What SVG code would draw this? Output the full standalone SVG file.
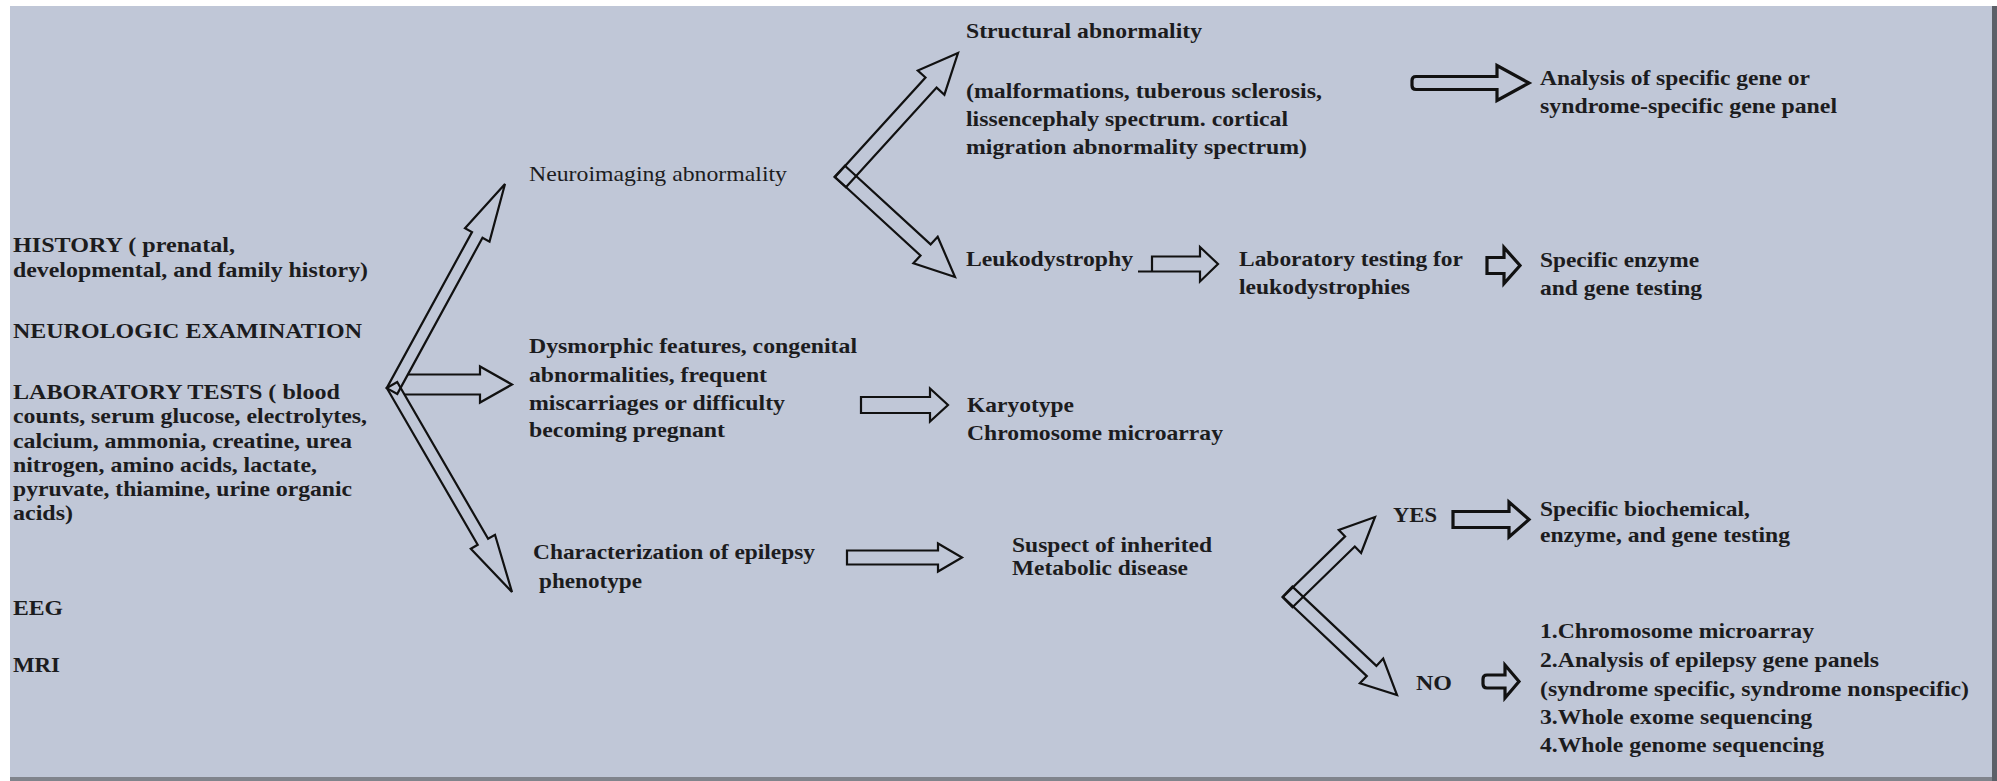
<svg xmlns="http://www.w3.org/2000/svg" width="1997" height="781" viewBox="0 0 1997 781">
<style>
.t{font-family:"Liberation Serif","Times New Roman",serif;font-size:22px;font-weight:bold;fill:#1c1c1e}
.r{font-weight:normal}
.a{fill:none;stroke:#111;stroke-width:2.2;stroke-linejoin:miter}
.b{stroke-width:3.2}
</style>
<rect x="0" y="0" width="1997" height="781" fill="#ffffff"/>
<rect x="10" y="6" width="1982" height="771" fill="#c0c7d7"/>
<rect x="10" y="777" width="1987" height="4" fill="#80848c"/>
<rect x="1992" y="6" width="5" height="775" fill="#5c6068"/>

<g id="connectors">
  <!-- left fork -->
  <polygon class="a" points="397.3,393.9 482.5,237.8 489.5,241.6 505,184 465,228.2 472,232.1 386.7,388.1"/>
  <polygon class="a" points="386.8,388 477.7,544.8 470.8,548.8 512,592 495,534.8 488.1,538.8 397.2,382"/>
  <path class="a" d="M407.8,374.5 L480,374.5 L480,366.5 L512,384.5 L480,402.5 L480,394.5 L404.4,394.5"/>
  <!-- neuroimaging fork -->
  <polygon class="a" points="845.9,187.3 936.6,87.6 944.4,94.7 958,53 917.8,70.5 925.5,77.5 834.8,177.2"/>
  <polygon class="a" points="834.7,176.8 920.5,255.5 913.4,263.2 955,277 937.7,236.7 930.6,244.4 844.9,165.7"/>
  <!-- structural -> gene panel -->
  <path class="a b" d="M1416,76.5 L1497,76.5 L1497,65.5 L1529,83 L1497,100.5 L1497,89.5 L1416,89.5 Q1412,89.5 1412,85.5 L1412,80.5 Q1412,76.5 1416,76.5 Z"/>
  <!-- leukodystrophy -> lab testing -->
  <path class="a" d="M1152,256.5 L1200,256.5 L1200,247 L1218,264 L1200,281.5 L1200,271.5 L1152,271.5 Z M1138,271.5 L1152,271.5"/>
  <!-- lab testing -> enzyme -->
  <path class="a b" d="M1487,257.5 L1504,257.5 L1504,247.5 L1520,265.5 L1504,283.5 L1504,273.5 L1487,273.5 Z"/>
  <!-- dysmorphic -> karyotype -->
  <path class="a" d="M861,397 L930,397 L930,388.5 L948,405 L930,421.5 L930,413 L861,413 Z"/>
  <!-- epilepsy -> suspect -->
  <path class="a" d="M847,550.5 L938,550.5 L938,543.5 L962,557.5 L938,571.5 L938,564.5 L847,564.5 Z"/>
  <!-- yes/no fork -->
  <polygon class="a" points="1292.5,607.3 1354.8,546.5 1361.1,552.9 1375,517 1338.8,530 1345.1,536.4 1282.7,597.3"/>
  <polygon class="a" points="1282.8,596.8 1366.8,676.1 1359.9,683.3 1397,695 1383.2,658.6 1376.4,665.9 1292.4,586.6"/>
  <!-- yes -> biochemical -->
  <path class="a b" d="M1453,511.5 L1509,511.5 L1509,502 L1529,519.5 L1509,537 L1509,527.5 L1453,527.5 Z"/>
  <!-- no -> list -->
  <path class="a b" d="M1487,675 L1505,675 L1505,665 L1519,681.5 L1505,698 L1505,688 L1487,688 Q1483,688 1483,684 L1483,679 Q1483,675 1487,675 Z"/>
</g>

<g id="inputs">
  <text class="t" x="13" y="252" textLength="222" lengthAdjust="spacingAndGlyphs">HISTORY ( prenatal,</text>
  <text class="t" x="13" y="277" textLength="355" lengthAdjust="spacingAndGlyphs">developmental, and family history)</text>
  <text class="t" x="13" y="338" textLength="349" lengthAdjust="spacingAndGlyphs">NEUROLOGIC EXAMINATION</text>
  <text class="t" x="13" y="399" textLength="327" lengthAdjust="spacingAndGlyphs">LABORATORY TESTS ( blood</text>
  <text class="t" x="13" y="423" textLength="354" lengthAdjust="spacingAndGlyphs">counts, serum glucose, electrolytes,</text>
  <text class="t" x="13" y="448" textLength="339" lengthAdjust="spacingAndGlyphs">calcium, ammonia, creatine, urea</text>
  <text class="t" x="13" y="472" textLength="304" lengthAdjust="spacingAndGlyphs">nitrogen, amino acids, lactate,</text>
  <text class="t" x="13" y="496" textLength="339" lengthAdjust="spacingAndGlyphs">pyruvate, thiamine, urine organic</text>
  <text class="t" x="13" y="520" textLength="60" lengthAdjust="spacingAndGlyphs">acids)</text>
  <text class="t" x="13" y="615" textLength="50" lengthAdjust="spacingAndGlyphs">EEG</text>
  <text class="t" x="13" y="672" textLength="47" lengthAdjust="spacingAndGlyphs">MRI</text>
</g>

<g id="neuroimaging">
  <text class="t r" x="529" y="181" textLength="258" lengthAdjust="spacingAndGlyphs">Neuroimaging abnormality</text>
</g>

<g id="dysmorphic">
  <text class="t" x="529" y="353" textLength="328" lengthAdjust="spacingAndGlyphs">Dysmorphic features, congenital</text>
  <text class="t" x="529" y="382" textLength="238" lengthAdjust="spacingAndGlyphs">abnormalities, frequent</text>
  <text class="t" x="529" y="410" textLength="256" lengthAdjust="spacingAndGlyphs">miscarriages or difficulty</text>
  <text class="t" x="529" y="437" textLength="196" lengthAdjust="spacingAndGlyphs">becoming pregnant</text>
</g>

<g id="epilepsy">
  <text class="t" x="533" y="559" textLength="282" lengthAdjust="spacingAndGlyphs">Characterization of epilepsy</text>
  <text class="t" x="539" y="588" textLength="103" lengthAdjust="spacingAndGlyphs">phenotype</text>
</g>

<g id="structural">
  <text class="t" x="966" y="38" textLength="236" lengthAdjust="spacingAndGlyphs">Structural abnormality</text>
  <text class="t" x="966" y="98" textLength="356" lengthAdjust="spacingAndGlyphs">(malformations, tuberous sclerosis,</text>
  <text class="t" x="966" y="126" textLength="322" lengthAdjust="spacingAndGlyphs">lissencephaly spectrum. cortical</text>
  <text class="t" x="966" y="154" textLength="341" lengthAdjust="spacingAndGlyphs">migration abnormality spectrum)</text>
</g>

<g id="leukodystrophy">
  <text class="t" x="966" y="266" textLength="167" lengthAdjust="spacingAndGlyphs">Leukodystrophy</text>
</g>

<g id="lab-testing">
  <text class="t" x="1239" y="266" textLength="224" lengthAdjust="spacingAndGlyphs">Laboratory testing for</text>
  <text class="t" x="1239" y="294" textLength="171" lengthAdjust="spacingAndGlyphs">leukodystrophies</text>
</g>

<g id="gene-panel">
  <text class="t" x="1540" y="85" textLength="270" lengthAdjust="spacingAndGlyphs">Analysis of specific gene or</text>
  <text class="t" x="1540" y="113" textLength="297" lengthAdjust="spacingAndGlyphs">syndrome-specific gene panel</text>
</g>

<g id="enzyme">
  <text class="t" x="1540" y="267" textLength="159" lengthAdjust="spacingAndGlyphs">Specific enzyme</text>
  <text class="t" x="1540" y="295" textLength="162" lengthAdjust="spacingAndGlyphs">and gene testing</text>
</g>

<g id="karyotype">
  <text class="t" x="967" y="412" textLength="107" lengthAdjust="spacingAndGlyphs">Karyotype</text>
  <text class="t" x="967" y="440" textLength="256" lengthAdjust="spacingAndGlyphs">Chromosome microarray</text>
</g>

<g id="suspect">
  <text class="t" x="1012" y="552" textLength="200" lengthAdjust="spacingAndGlyphs">Suspect of inherited</text>
  <text class="t" x="1012" y="575" textLength="176" lengthAdjust="spacingAndGlyphs">Metabolic disease</text>
</g>

<g id="yes">
  <text class="t" x="1393" y="522" textLength="44" lengthAdjust="spacingAndGlyphs">YES</text>
</g>

<g id="biochemical">
  <text class="t" x="1540" y="516" textLength="210" lengthAdjust="spacingAndGlyphs">Specific biochemical,</text>
  <text class="t" x="1540" y="542" textLength="250" lengthAdjust="spacingAndGlyphs">enzyme, and gene testing</text>
</g>

<g id="no">
  <text class="t" x="1416" y="690" textLength="36" lengthAdjust="spacingAndGlyphs">NO</text>
</g>

<g id="no-list">
  <text class="t" x="1540" y="638" textLength="274" lengthAdjust="spacingAndGlyphs">1.Chromosome microarray</text>
  <text class="t" x="1540" y="667" textLength="339" lengthAdjust="spacingAndGlyphs">2.Analysis of epilepsy gene panels</text>
  <text class="t" x="1540" y="696" textLength="429" lengthAdjust="spacingAndGlyphs">(syndrome specific, syndrome nonspecific)</text>
  <text class="t" x="1540" y="724" textLength="272" lengthAdjust="spacingAndGlyphs">3.Whole exome sequencing</text>
  <text class="t" x="1540" y="752" textLength="284" lengthAdjust="spacingAndGlyphs">4.Whole genome sequencing</text>
</g>
</svg>
